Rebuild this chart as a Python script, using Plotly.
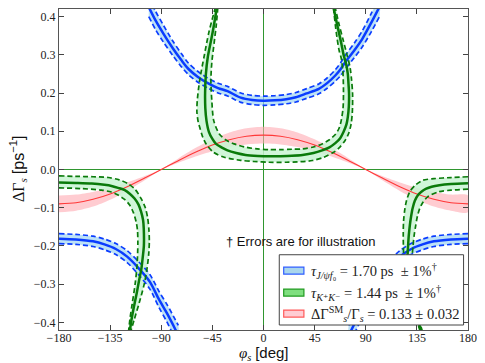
import plotly.graph_objects as go

# ---------------- data ----------------
# phi_s [deg], Delta Gamma_s [ps^-1]

# Blue (tau J/psi f0) upper U-shaped curve
blue_u_phi = [-101, -95, -88, -80, -72, -66, -58, -49, -40, -31.7, -20, -10, 0, 10, 20, 28.5, 38, 48.7, 56, 63.2, 68, 71.8, 80, 87, 95, 102]
blue_u_mid = [0.425, 0.390, 0.355, 0.318, 0.285, 0.263, 0.243, 0.226, 0.213, 0.205, 0.188, 0.182, 0.180, 0.181, 0.184, 0.189, 0.199, 0.211, 0.226, 0.246, 0.263, 0.280, 0.312, 0.342, 0.385, 0.425]
blue_u_hi = [0.450, 0.414, 0.377, 0.337, 0.302, 0.278, 0.257, 0.239, 0.2258, 0.2175, 0.2002, 0.194, 0.192, 0.193, 0.196, 0.2015, 0.2117, 0.224, 0.2395, 0.261, 0.280, 0.298, 0.331, 0.363, 0.409, 0.450]
blue_u_lo = [0.400, 0.366, 0.333, 0.299, 0.268, 0.248, 0.229, 0.213, 0.2002, 0.1925, 0.1758, 0.170, 0.168, 0.169, 0.172, 0.1765, 0.1863, 0.198, 0.2125, 0.231, 0.246, 0.262, 0.293, 0.321, 0.361, 0.400]

# Blue lower-left curve
blue_l_phi = [-180, -165, -150, -140, -130, -120, -110, -100, -92, -85, -78, -75]
blue_l_mid = [-0.181, -0.183, -0.188, -0.196, -0.208, -0.228, -0.258, -0.294, -0.340, -0.376, -0.416, -0.434]
blue_l_hi = [-0.168, -0.170, -0.1745, -0.182, -0.1935, -0.2125, -0.241, -0.275, -0.319, -0.353, -0.391, -0.408]
blue_l_lo = [-0.194, -0.196, -0.2015, -0.210, -0.2225, -0.2435, -0.275, -0.313, -0.361, -0.399, -0.441, -0.460]

# Blue lower-right curve
blue_r_phi = [180, 165, 150, 140, 130, 120, 110, 100, 92, 85, 78, 75]
blue_r_mid = [-0.181, -0.183, -0.188, -0.196, -0.208, -0.228, -0.258, -0.294, -0.340, -0.376, -0.416, -0.434]
blue_r_hi = [-0.168, -0.170, -0.1745, -0.182, -0.1935, -0.2125, -0.241, -0.275, -0.319, -0.353, -0.391, -0.408]
blue_r_lo = [-0.194, -0.196, -0.2015, -0.210, -0.2225, -0.2435, -0.275, -0.313, -0.361, -0.399, -0.441, -0.460]

# Green (tau K+K-) upper hook: centre line (ordered along curve)
green_u_phi = [-41, -43.5, -46, -49, -50.7, -51.4, -51.2, -50.2, -48, -45, -41.8, -37, -31.7, -24, -15.8, -5, 5, 15, 25, 34.3, 44, 51.6, 58, 63.2, 67.5, 70.4, 73, 74.2, 75.1, 75.3, 74.8, 74.2, 72.8, 70.5, 68.5, 65.5, 62.3, 61.8]
green_u_mid = [0.425, 0.38, 0.34, 0.295, 0.25, 0.20, 0.16, 0.128, 0.098, 0.080, 0.067, 0.058, 0.050, 0.043, 0.038, 0.0355, 0.0345, 0.035, 0.036, 0.038, 0.043, 0.050, 0.058, 0.069, 0.082, 0.098, 0.118, 0.137, 0.165, 0.198, 0.225, 0.250, 0.275, 0.30, 0.33, 0.37, 0.415, 0.425]
# outer (low) edge
green_uo_phi = [-42.2, -48, -52, -56.2, -58.3, -58.6, -57.5, -56.2, -53.5, -50.5, -44, -34.5, -20, -8.5, 5, 20, 30, 43, 53, 61.7, 67, 71.8, 75, 77.1, 78.2, 78.4, 77.5, 76.2, 73.5, 70, 66.5, 63]
green_uo_dg = [0.425, 0.36, 0.30, 0.233, 0.18, 0.15, 0.125, 0.111, 0.085, 0.067, 0.045, 0.032, 0.024, 0.021, 0.019, 0.019, 0.020, 0.0235, 0.032, 0.045, 0.058, 0.076, 0.095, 0.119, 0.150, 0.198, 0.235, 0.267, 0.30, 0.34, 0.38, 0.425]
# inner (high) edge
green_ui_phi = [-40.2, -41.5, -43.5, -45.5, -46.3, -45.5, -43.8, -38.9, -33, -25.9, -15, -5.6, 5, 15, 25, 34.3, 44, 51.6, 58, 63.2, 66.5, 68.4, 70, 70.4, 70.2, 69.8, 68.5, 66.6, 64, 61.5]
green_ui_dg = [0.425, 0.38, 0.33, 0.28, 0.233, 0.18, 0.128, 0.093, 0.077, 0.067, 0.058, 0.054, 0.052, 0.052, 0.053, 0.054, 0.059, 0.067, 0.078, 0.0915, 0.108, 0.128, 0.16, 0.198, 0.235, 0.259, 0.29, 0.311, 0.36, 0.425]

# Green lower-left hook
green_l_phi = [-180, -165, -151.1, -140, -133.8, -128, -122.1, -117.5, -113.5, -110, -107.7, -106, -105.4, -105.3, -106.3, -107.5, -109.5, -111.7, -114.1, -116, -117.8]
green_l_mid = [-0.034, -0.035, -0.0366, -0.040, -0.043, -0.048, -0.054, -0.064, -0.076, -0.092, -0.111, -0.132, -0.154, -0.20, -0.23, -0.26, -0.29, -0.325, -0.36, -0.39, -0.425]
green_lo_phi = [-180, -165, -150, -136.6, -127, -119.3, -113, -107.7, -104, -101.9, -100.8, -100.5, -101, -102.5, -105, -109.5, -113.5, -117]
green_lo_dg = [-0.0166, -0.018, -0.019, -0.021, -0.027, -0.037, -0.052, -0.076, -0.10, -0.128, -0.16, -0.189, -0.22, -0.259, -0.30, -0.35, -0.39, -0.425]
green_li_phi = [-180, -160, -142.4, -134, -128, -122, -117.8, -114.5, -112.1, -110.9, -110.6, -110.8, -111.5, -113, -115.5, -117.5, -118.8]
green_li_dg = [-0.048, -0.050, -0.054, -0.059, -0.067, -0.079, -0.093, -0.113, -0.137, -0.16, -0.189, -0.22, -0.259, -0.30, -0.35, -0.39, -0.425]

# Green lower-right hook
green_r_phi = [180, 165, 154.8, 148, 143.3, 139, 136, 133.2, 131.2, 129.8, 128.8, 127.8, 127.3, 126.8, 126.6, 127.5, 129.5, 132, 135, 138, 139]
green_r_mid = [-0.036, -0.038, -0.041, -0.045, -0.050, -0.058, -0.067, -0.082, -0.102, -0.125, -0.146, -0.175, -0.198, -0.225, -0.25, -0.28, -0.315, -0.35, -0.385, -0.415, -0.425]
green_ro_phi = [180, 165, 150, 140.4, 134, 128.8, 126, 124.5, 123.3, 123, 123.6, 125, 127.5, 131, 135, 138]
green_ro_dg = [-0.019, -0.021, -0.024, -0.028, -0.040, -0.058, -0.080, -0.102, -0.135, -0.172, -0.241, -0.28, -0.32, -0.36, -0.395, -0.425]
green_ri_phi = [180, 165, 154.8, 144.7, 140.5, 137.5, 135.5, 134, 132.5, 131.7, 130.3, 131, 132.5, 135, 137.5, 140]
green_ri_dg = [-0.0515, -0.054, -0.058, -0.071, -0.085, -0.102, -0.122, -0.146, -0.175, -0.198, -0.25, -0.29, -0.33, -0.37, -0.40, -0.425]

# Red (SM Delta Gamma_s) band
red_phi = [-180, -165, -150, -135, -120, -105, -90, -75, -60, -45, -30, -15, 0, 15, 30, 45, 60, 75, 90, 105, 120, 135, 150, 165, 180]
red_mid = [-0.090, -0.087, -0.078, -0.064, -0.045, -0.023, 0.0, 0.023, 0.045, 0.064, 0.078, 0.087, 0.090, 0.087, 0.078, 0.064, 0.045, 0.023, 0.0, -0.023, -0.045, -0.064, -0.078, -0.087, -0.090]
red_hi = [-0.112, -0.108, -0.097, -0.079, -0.056, -0.029, 0.0, 0.029, 0.056, 0.079, 0.097, 0.108, 0.112, 0.108, 0.097, 0.079, 0.056, 0.029, 0.0, -0.029, -0.056, -0.079, -0.097, -0.108, -0.112]
red_lo = [-0.068, -0.0657, -0.0589, -0.048, -0.034, -0.0176, 0.0, 0.0176, 0.034, 0.048, 0.0589, 0.0657, 0.068, 0.0657, 0.0589, 0.048, 0.034, 0.0176, 0.0, -0.0176, -0.034, -0.048, -0.0589, -0.0657, -0.068]

x_ticks = [-180, -135, -90, -45, 0, 45, 90, 135, 180]
y_ticks = [-0.4, -0.3, -0.2, -0.1, 0.0, 0.1, 0.2, 0.3, 0.4]

legend_labels = [
    "<i>τ</i><sub><i>J/ψf</i>₀</sub> = 1.70 ps  ± 1%<sup>†</sup>",
    "<i>τ</i><sub><i>K</i>⁺<i>K</i>⁻</sub> = 1.44 ps  ± 1%<sup>†</sup>",
    "ΔΓ<sup>SM</sup><sub><i>s</i></sub>/Γ<sub><i>s</i></sub> = 0.133 ± 0.032",
]

# ---------------- styles ----------------
BLUE = "#0a3cff"
BLUE_FILL = "rgba(160,212,242,0.7)"
GREEN = "#0a7a0a"
GREEN_FILL = "rgba(200,245,210,0.85)"
RED = "#ff3838"
RED_FILL = "rgba(255,170,178,0.6)"
SERIF = "Liberation Serif, DejaVu Serif, serif"
SANS = "Liberation Sans, Arial, sans-serif"
DASH = "5px,3px"

fig = go.Figure()


def band(xo, yo, xi, yi, color):
    fig.add_trace(go.Scatter(
        x=list(xo) + list(xi)[::-1], y=list(yo) + list(yi)[::-1],
        mode="lines", fill="toself", fillcolor=color,
        line=dict(width=0, shape="spline", smoothing=0.8),
        hoverinfo="skip", showlegend=False))


def line(x, y, color, width, dash="solid"):
    fig.add_trace(go.Scatter(
        x=x, y=y, mode="lines",
        line=dict(color=color, width=width, dash=dash, shape="spline", smoothing=0.8),
        hoverinfo="skip", showlegend=False))


# fills
band(red_phi, red_hi, red_phi, red_lo, RED_FILL)
band(blue_u_phi, blue_u_hi, blue_u_phi, blue_u_lo, BLUE_FILL)
band(blue_l_phi, blue_l_hi, blue_l_phi, blue_l_lo, BLUE_FILL)
band(blue_r_phi, blue_r_hi, blue_r_phi, blue_r_lo, BLUE_FILL)
band(green_uo_phi, green_uo_dg, green_ui_phi, green_ui_dg, GREEN_FILL)
band(green_lo_phi, green_lo_dg, green_li_phi, green_li_dg, GREEN_FILL)
band(green_ro_phi, green_ro_dg, green_ri_phi, green_ri_dg, GREEN_FILL)

# lines
line(red_phi, red_mid, RED, 1.1)
for xs, mid, hi, lo in [(blue_u_phi, blue_u_mid, blue_u_hi, blue_u_lo),
                        (blue_l_phi, blue_l_mid, blue_l_hi, blue_l_lo),
                        (blue_r_phi, blue_r_mid, blue_r_hi, blue_r_lo)]:
    line(xs, hi, BLUE, 1.7, DASH)
    line(xs, lo, BLUE, 1.7, DASH)
    line(xs, mid, BLUE, 2.5)

for (xm, ym), (xo, yo), (xi, yi) in [
        ((green_u_phi, green_u_mid), (green_uo_phi, green_uo_dg), (green_ui_phi, green_ui_dg)),
        ((green_l_phi, green_l_mid), (green_lo_phi, green_lo_dg), (green_li_phi, green_li_dg)),
        ((green_r_phi, green_r_mid), (green_ro_phi, green_ro_dg), (green_ri_phi, green_ri_dg))]:
    line(xo, yo, GREEN, 1.7, DASH)
    line(xi, yi, GREEN, 1.7, DASH)
    line(xm, ym, GREEN, 2.5)

# ---------------- layout ----------------
L, R, T, B = 59, 11, 8, 33
W, H = 485, 363
PW, PH = W - L - R, H - T - B


def px(xp):
    return (xp - L) / PW


def py(yp):
    return (H - B - yp) / PH


shapes = []
annotations = []

# legend box
shapes.append(dict(type="rect", xref="paper", yref="paper",
                   x0=px(282.5), x1=px(469.5), y0=py(325), y1=py(254.5),
                   fillcolor="white", line=dict(color="#444", width=1), layer="above"))
patch_fill = ["#a9d6ec", "#7fdf7f", "#ffccd3"]
patch_line = ["#2f5dff", "#1f9a1f", "#ff5a5a"]
rows = [270.5, 292.5, 313.5]
for yc, fc, lc, lab in zip(rows, patch_fill, patch_line, legend_labels):
    shapes.append(dict(type="rect", xref="paper", yref="paper",
                       x0=px(287), x1=px(307.5), y0=py(yc + 3.5), y1=py(yc - 3.5),
                       fillcolor=fc, line=dict(color=lc, width=1.2), layer="above"))
    annotations.append(dict(xref="paper", yref="paper", x=px(313), y=py(yc),
                            xanchor="left", yanchor="middle", showarrow=False,
                            text=lab, font=dict(family=SERIF, size=14.5, color="#222")))

annotations.append(dict(xref="paper", yref="paper", x=px(226), y=py(241),
                        xanchor="left", yanchor="middle", showarrow=False,
                        text="† Errors are for illustration",
                        font=dict(family=SANS, size=13, color="#111")))

# axis titles
annotations.append(dict(xref="paper", yref="paper", x=0.5, y=py(354),
                        xanchor="center", yanchor="middle", showarrow=False,
                        text="<i>φ</i><sub><i>s</i></sub> <span style='font-family:Liberation Sans'>[deg]</span>",
                        font=dict(family=SERIF, size=15, color="#111")))
annotations.append(dict(xref="paper", yref="paper", x=px(17), y=0.5,
                        xanchor="center", yanchor="middle", showarrow=False, textangle=-90,
                        text="ΔΓ<sub><i>s</i></sub> <span style='font-family:Liberation Sans'>[ps<sup>−1</sup>]</span>",
                        font=dict(family=SERIF, size=16, color="#111")))

axis_common = dict(showgrid=False, ticks="inside", ticklen=5, tickwidth=1, tickcolor="#444",
                   showline=True, linecolor="#555", linewidth=1, mirror="ticks",
                   zeroline=True, zerolinecolor="#2f962f", zerolinewidth=1,
                   tickfont=dict(family=SERIF, size=12, color="#222"))

fig.update_layout(
    width=W, height=H,
    margin=dict(l=L, r=R, t=T, b=B),
    paper_bgcolor="white", plot_bgcolor="white",
    showlegend=False,
    xaxis=dict(range=[-180, 180], tickvals=x_ticks, ticklabelstandoff=-3, **axis_common),
    yaxis=dict(range=[-0.42, 0.42], tickvals=y_ticks, tickformat=".1f", **axis_common),
    shapes=shapes, annotations=annotations,
)

fig.write_html("out.html")
